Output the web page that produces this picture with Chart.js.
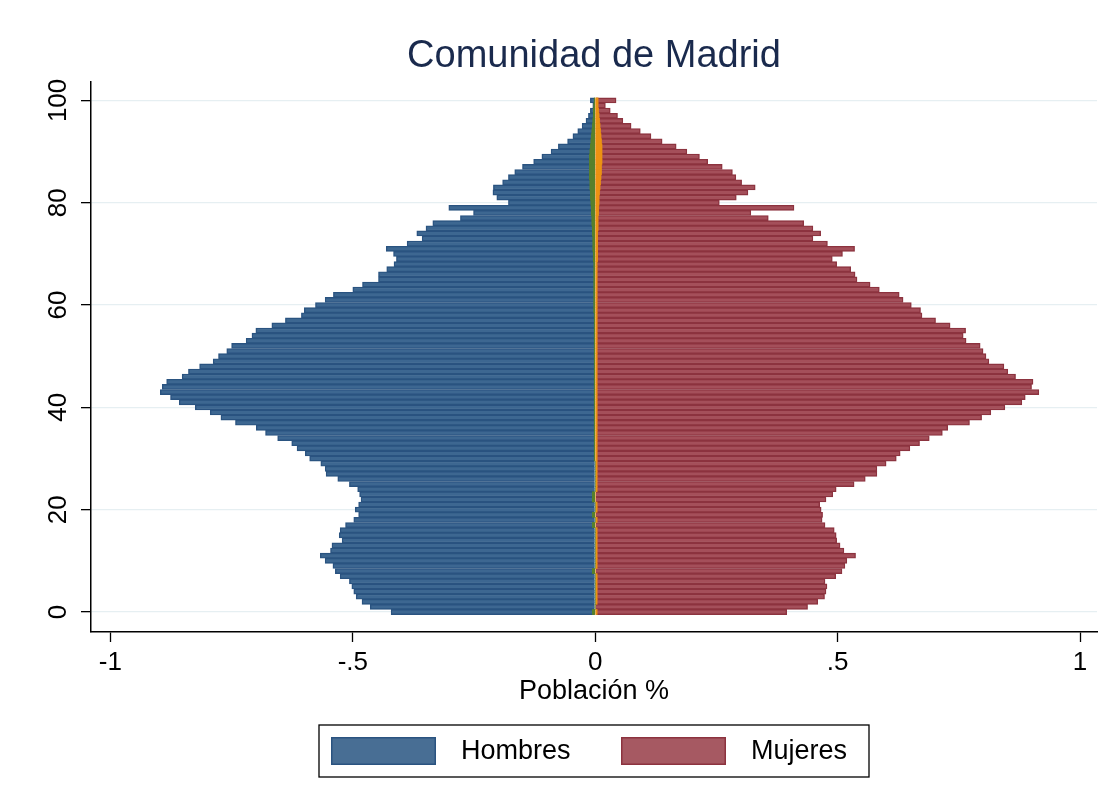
<!DOCTYPE html>
<html lang="es">
<head>
<meta charset="UTF-8">
<title>Pirámide de población - Comunidad de Madrid</title>
<script src="https://cdn.jsdelivr.net/npm/chart.js"></script>
<style>
  html, body { margin: 0; padding: 0; background: #fff; }
</style>
</head>
<body>
<canvas id="piramide" width="1116" height="810"></canvas>
<script>
// Edades (eje vertical)
const edades = [0,1,2,3,4,5,6,7,8,9,10,11,12,13,14,15,16,17,18,19,20,
  21,22,23,24,25,26,27,28,29,30,31,32,33,34,35,36,37,38,39,40,
  41,42,43,44,45,46,47,48,49,50,51,52,53,54,55,56,57,58,59,60,
  61,62,63,64,65,66,67,68,69,70,71,72,73,74,75,76,77,78,79,80,
  81,82,83,84,85,86,87,88,89,90,91,92,93,94,95,96,97,98,99,100];

// Hombres (% de la población, negativo a la izquierda), edad 0 -> 100
const hombres = [
  -0.421,-0.464,-0.481,-0.493,-0.498,-0.502,-0.507,-0.526,-0.536,-0.541,
  -0.557,-0.567,-0.546,-0.543,-0.522,-0.528,-0.526,-0.515,-0.498,-0.488,
  -0.495,-0.488,-0.483,-0.486,-0.490,-0.507,-0.531,-0.555,-0.557,-0.566,
  -0.589,-0.598,-0.615,-0.626,-0.655,-0.680,-0.699,-0.742,-0.772,-0.794,
  -0.825,-0.858,-0.876,-0.897,-0.893,-0.884,-0.852,-0.839,-0.816,-0.788,
  -0.777,-0.760,-0.750,-0.720,-0.708,-0.700,-0.667,-0.639,-0.606,-0.600,
  -0.577,-0.557,-0.540,-0.500,-0.480,-0.447,-0.447,-0.430,-0.415,-0.410,
  -0.416,-0.431,-0.388,-0.357,-0.368,-0.349,-0.335,-0.278,-0.251,-0.302,
  -0.179,-0.203,-0.211,-0.210,-0.191,-0.179,-0.166,-0.150,-0.127,-0.110,
  -0.091,-0.076,-0.057,-0.046,-0.036,-0.027,-0.019,-0.014,-0.010,-0.005,
  -0.010];

// Mujeres, edad 0 -> 100
const mujeres = [
  0.395,0.438,0.459,0.473,0.476,0.478,0.474,0.496,0.509,0.515,
  0.519,0.537,0.513,0.505,0.498,0.497,0.493,0.474,0.468,0.469,
  0.466,0.463,0.476,0.490,0.497,0.534,0.557,0.581,0.581,0.600,
  0.621,0.629,0.649,0.669,0.689,0.716,0.727,0.772,0.797,0.816,
  0.845,0.880,0.887,0.915,0.900,0.903,0.867,0.851,0.843,0.812,
  0.806,0.800,0.794,0.765,0.759,0.764,0.732,0.702,0.674,0.671,
  0.652,0.635,0.627,0.586,0.567,0.540,0.536,0.527,0.498,0.489,
  0.510,0.535,0.479,0.449,0.465,0.449,0.430,0.357,0.321,0.410,
  0.256,0.291,0.315,0.330,0.302,0.290,0.283,0.262,0.232,0.215,
  0.189,0.167,0.138,0.115,0.093,0.074,0.057,0.046,0.031,0.021,
  0.043];

// Series pequeñas junto al eje (verde a la izquierda, naranja a la derecha), edad 0 -> 100
const verde = [
  -0.006,0,0,0,0,0,0,0,-0.006,0,
  0,0,0,0,0,0,0,-0.006,0,-0.006,
  0,0,-0.006,-0.006,0,0,0,0,0,0,
  -0.002,-0.002,-0.002,-0.002,-0.002,-0.002,-0.002,-0.002,-0.002,-0.002,
  -0.002,-0.002,-0.002,-0.002,-0.002,-0.002,-0.002,-0.002,-0.002,-0.002,
  -0.002,-0.002,-0.002,-0.002,-0.002,-0.002,-0.002,-0.002,-0.002,-0.003,
  -0.003,-0.003,-0.003,-0.003,-0.003,-0.003,-0.003,-0.003,-0.003,-0.004,
  -0.004,-0.005,-0.005,-0.005,-0.006,-0.006,-0.007,-0.007,-0.008,-0.008,
  -0.009,-0.010,-0.010,-0.011,-0.011,-0.012,-0.012,-0.012,-0.012,-0.012,
  -0.011,-0.010,-0.009,-0.008,-0.007,-0.006,-0.005,-0.004,-0.004,-0.003,
  -0.002];
const naranja = [
  0.004,0,0.004,0.004,0.004,0.004,0.004,0.004,0,0.004,
  0.004,0.004,0.004,0.004,0.004,0.004,0.004,0,0.004,0,
  0.004,0.004,0,0,0.004,0.004,0.004,0.004,0.004,0.004,
  0.004,0.004,0.004,0.004,0.004,0.004,0.004,0.004,0.004,0.004,
  0.004,0.004,0.004,0.004,0.004,0.004,0.004,0.004,0.004,0.004,
  0.004,0.004,0.004,0.004,0.004,0.004,0.004,0.004,0.004,0.004,
  0.004,0.004,0.004,0.004,0.004,0.004,0.004,0.004,0.004,0.005,
  0.005,0.005,0.005,0.005,0.005,0.006,0.006,0.006,0.007,0.007,
  0.008,0.008,0.009,0.010,0.011,0.012,0.013,0.013,0.014,0.014,
  0.014,0.014,0.013,0.012,0.011,0.010,0.009,0.008,0.007,0.006,
  0.006];

const ticksX = [-1, -0.5, 0, 0.5, 1];
const ticksY = [0, 20, 40, 60, 80, 100];

const titulo = 'Comunidad de Madrid';
const fuente = "'Liberation Sans', Arial, Helvetica, sans-serif";

// Etiquetas al estilo Stata: -.5, .5
function etiquetaX(v) {
  return String(v).replace('0.', '.');
}

// Título centrado sobre el área del gráfico (no sobre el lienzo)
const tituloArea = {
  id: 'tituloArea',
  afterDraw(chart) {
    const ctx = chart.ctx;
    const area = chart.chartArea;
    ctx.save();
    ctx.font = '38px ' + fuente;
    ctx.fillStyle = '#1a2a4d';
    ctx.textAlign = 'center';
    ctx.textBaseline = 'middle';
    ctx.fillText(titulo, (area.left + area.right) / 2, 57);
    ctx.restore();
  }
};

// Leyenda con marco, dibujada debajo del eje
const leyendaCaja = {
  id: 'leyendaCaja',
  afterDraw(chart) {
    const ctx = chart.ctx;
    const area = chart.chartArea;
    const cx = (area.left + area.right) / 2;
    const x0 = cx - 275, y0 = area.bottom + 93;
    const entradas = chart.data.datasets.filter(d => d.enLeyenda);
    ctx.save();
    ctx.strokeStyle = '#000';
    ctx.lineWidth = 1.3;
    ctx.strokeRect(x0, y0, 550, 52);
    ctx.font = '27px ' + fuente;
    ctx.textBaseline = 'middle';
    entradas.forEach((d, i) => {
      const sx = x0 + 12 + i * 290;
      ctx.fillStyle = d.colorLeyenda;
      ctx.fillRect(sx, y0 + 12, 105, 28);
      ctx.strokeStyle = d.borderColor;
      ctx.lineWidth = 1.5;
      ctx.strokeRect(sx + 0.75, y0 + 12.75, 103.5, 26.5);
      ctx.fillStyle = '#000';
      ctx.fillText(d.label, sx + 130, y0 + 27);
    });
    ctx.restore();
  }
};

const ctx = document.getElementById('piramide').getContext('2d');
new Chart(ctx, {
  type: 'bar',
  data: {
    labels: edades,
    datasets: [
      { label: 'Hombres', data: hombres, enLeyenda: true, order: 2,
        backgroundColor: '#3d6791', borderColor: '#2a5380', colorLeyenda: '#486e94', borderWidth: 1.4 },
      { label: 'Mujeres', data: mujeres, enLeyenda: true, order: 2,
        backgroundColor: '#a44f5a', borderColor: '#8c333f', colorLeyenda: '#a65962', borderWidth: 1.4 },
      { label: 'verde', data: verde, order: 1,
        backgroundColor: '#56802c', borderColor: '#56802c', borderWidth: 0 },
      { label: 'naranja', data: naranja, order: 1,
        backgroundColor: '#ec9212', borderColor: '#ec9212', borderWidth: 0 }
    ]
  },
  options: {
    responsive: false,
    animation: false,
    indexAxis: 'y',
    layout: { padding: { left: 0, right: 19, top: 82, bottom: 98 } },
    datasets: { bar: { grouped: false, barPercentage: 1, categoryPercentage: 1 } },
    plugins: {
      legend: { display: false },
      tooltip: { enabled: false },
      title: { display: false }
    },
    scales: {
      x: {
        type: 'linear',
        min: -1.04,
        max: 1.035,
        afterBuildTicks: s => { s.ticks = ticksX.map(v => ({ value: v })); },
        afterFit: s => { s.height = 80; },
        ticks: { callback: etiquetaX, color: '#000', padding: 5, font: { family: fuente, size: 26 } },
        grid: { drawOnChartArea: false, tickLength: 10, tickColor: '#000', tickWidth: 1.3 },
        border: { color: '#000', width: 1.5 },
        title: {
          display: true, text: 'Población %', color: '#000',
          font: { family: fuente, size: 27 }, padding: { top: 0, bottom: 4 }
        }
      },
      y: {
        type: 'linear',
        min: -3.91,
        max: 103.6,
        offset: false,
        afterBuildTicks: s => { s.ticks = ticksY.map(v => ({ value: v })); },
        afterFit: s => { s.width = 91; },
        ticks: { minRotation: 90, maxRotation: 90, crossAlign: 'center', padding: 0, color: '#000',
                 font: { family: fuente, size: 26 } },
        grid: { offset: false, color: '#e6eff2', lineWidth: 1.3, tickColor: '#000', tickLength: 10, tickWidth: 1.3 },
        border: { color: '#000', width: 1.5 }
      }
    }
  },
  plugins: [tituloArea, leyendaCaja]
});
</script>
</body>
</html>
